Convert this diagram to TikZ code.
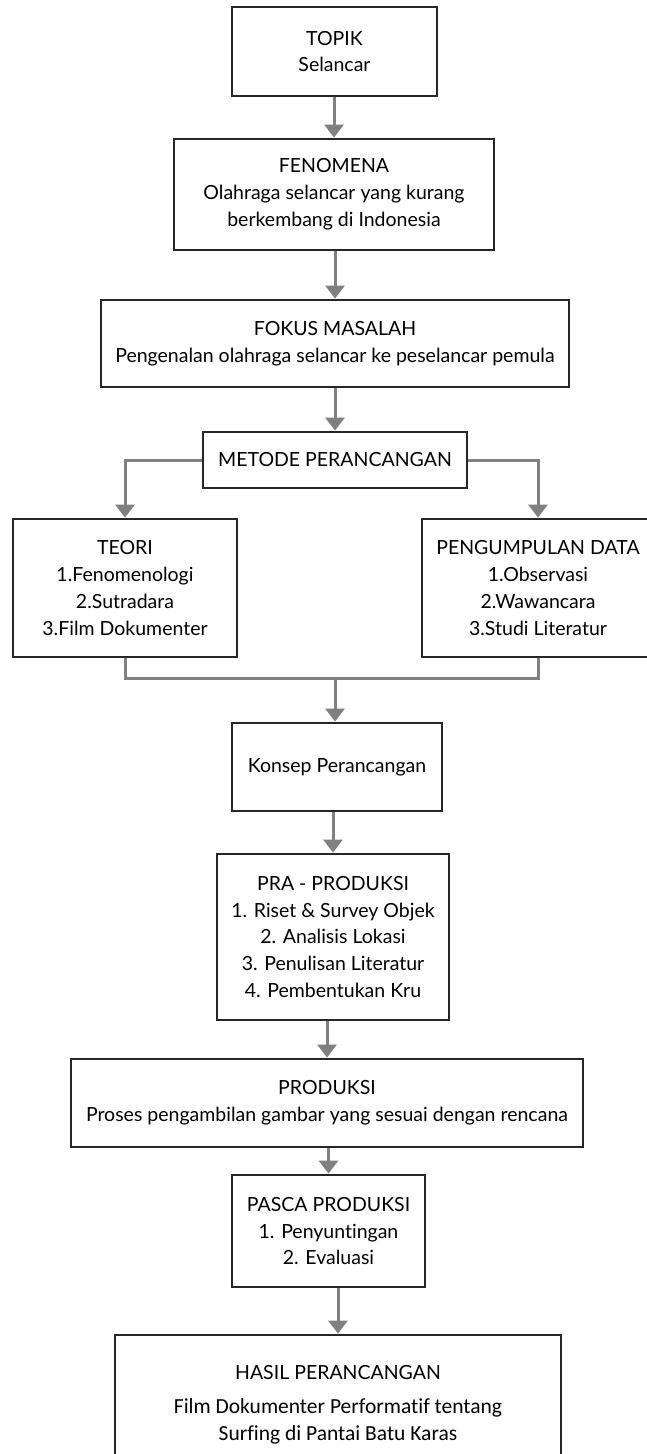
\documentclass[tikz,border=0pt]{standalone}
\usepackage{fontspec}
\setmainfont{Lato}[Ligatures=NoCommon]
\newfontfamily\carlito{Carlito}[Ligatures=NoCommon]
\usetikzlibrary{arrows.meta, positioning}

\begin{document}
\begin{tikzpicture}[
    x=1pt, y=-1pt,
    box/.style 2 args={
        draw=black!85, line width=2.8pt, minimum width=#1, minimum height=#2,
        inner sep=2pt, font=\fontsize{19.5}{26.8}\selectfont, align=center, fill=white
    },
    arr/.style={-{Triangle[length=13pt, width=19pt]}, line width=3pt, color=black!50},
    conn/.style={line width=3pt, color=black!50}
]
\useasboundingbox (0,0) rectangle (646,1454);

% Boxes
\node[box={205pt}{89pt}] (topik) at (334.5,51.5) {TOPIK\\Selancar};
\node[box={320pt}{111pt}] (fenomena) at (334,194.5) {FENOMENA\\Olahraga selancar yang kurang\\berkembang di Indonesia};
\node[box={468pt}{87pt}] (fokus) at (335,343.5) {FOKUS MASALAH\\Pengenalan olahraga selancar ke peselancar pemula};
\node[box={264pt}{56pt}] (metode) at (335,460) {METODE PERANCANGAN};
\node[box={224pt}{138pt}] (teori) at (125,588) {TEORI\\1.Fenomenologi\\2.Sutradara\\3.Film Dokumenter};
\node[box={232pt}{138pt}] (pengumpulan) at (538,588) {PENGUMPULAN DATA\\1.Observasi\\2.Wawancara\\3.Studi Literatur};
\node[box={210pt}{88pt}] (konsep) at (337,767) {Konsep Perancangan};
\node[box={232pt}{166pt}] (praproduksi) at (333,937) {PRA - PRODUKSI\\1. Riset \& Survey Objek\\2. Analisis Lokasi\\3. Penulisan Literatur\\4. Pembentukan Kru};
\node[box={512pt}{88pt}] (produksi) at (327,1103) {PRODUKSI\\Proses pengambilan gambar yang sesuai dengan rencana};
\node[box={193pt}{112pt}] (pasca) at (328.5,1231) {PASCA PRODUKSI\\1. Penyuntingan\\2. Evaluasi};
\node[box={446pt}{140pt}] (hasil) at (338,1405) {HASIL PERANCANGAN\\[7pt]{\carlito\fontsize{21.5}{27}\selectfont Film Dokumenter Performatif tentang}\\{\carlito\fontsize{21.5}{27}\selectfont Surfing di Pantai Batu Karas}};

% Arrows
\draw[arr] (topik.south -| fenomena.north) -- (fenomena.north);
\draw[arr] (fenomena.south -| fokus.north) -- (fokus.north);
\draw[arr] (fokus.south -| metode.north) -- (metode.north);
\draw[arr] (metode.west) -| (teori.north);
\draw[arr] (metode.east) -| (pengumpulan.north);

% Merge
\coordinate (gabung) at (335,678);
\draw[conn] (teori.south) |- (gabung) -| (pengumpulan.south);
\draw[arr] (gabung) -- (gabung |- konsep.north);

\draw[arr] (konsep.south -| praproduksi.north) -- (praproduksi.north);
\draw[arr] (praproduksi.south -| produksi.north) -- (produksi.north);
\draw[arr] (produksi.south -| pasca.north) -- (pasca.north);
\draw[arr] (pasca.south -| hasil.north) -- (hasil.north);

\end{tikzpicture}
\end{document}
